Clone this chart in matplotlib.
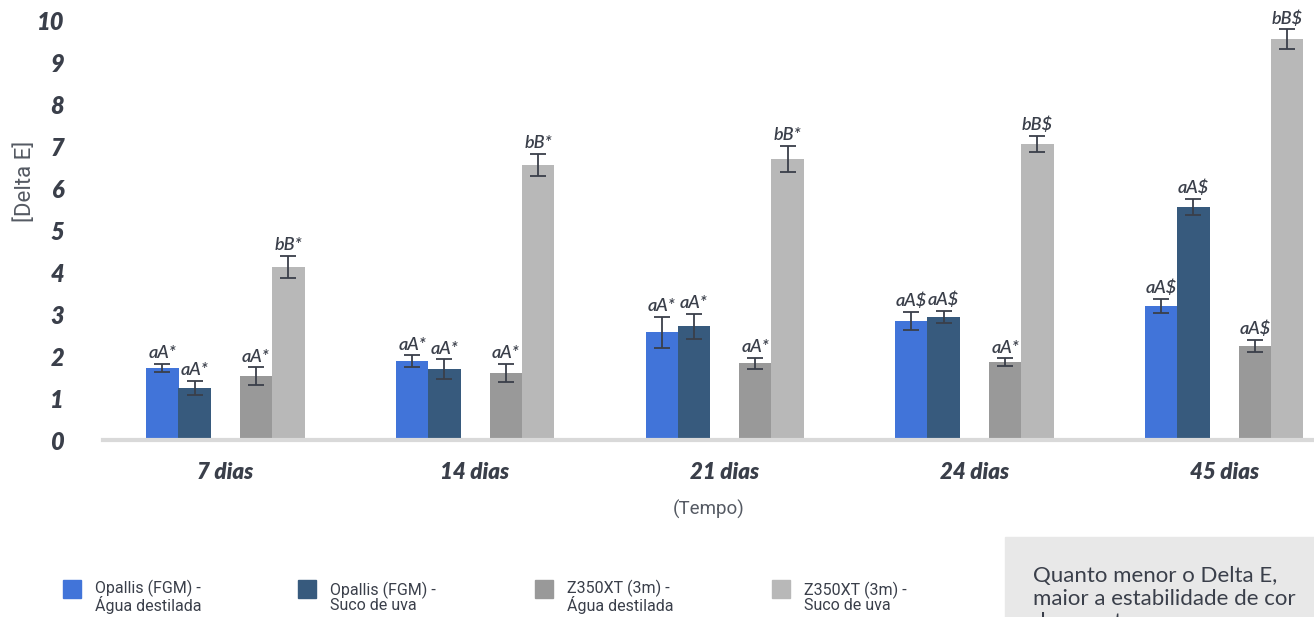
import matplotlib
matplotlib.use("Agg")
import matplotlib.pyplot as plt
import numpy as np
from matplotlib.patches import Rectangle

categories = ["7 dias", "14 dias", "21 dias", "24 dias", "45 dias"]
series_names = ["Opallis (FGM) -\nÁgua destilada", "Opallis (FGM) -\nSuco de uva",
                "Z350XT (3m) -\nÁgua destilada", "Z350XT (3m) -\nSuco de uva"]
opallis_agua = [1.71, 1.88, 2.57, 2.83, 3.19]
opallis_uva = [1.24, 1.69, 2.71, 2.93, 5.55]
z350_agua = [1.52, 1.60, 1.83, 1.86, 2.24]
z350_uva = [4.12, 6.55, 6.69, 7.05, 9.55]
err_opallis_agua = [0.10, 0.14, 0.37, 0.22, 0.17]
err_opallis_uva = [0.17, 0.23, 0.30, 0.15, 0.20]
err_z350_agua = [0.21, 0.21, 0.13, 0.09, 0.15]
err_z350_uva = [0.27, 0.26, 0.32, 0.20, 0.23]
labels_opallis_agua = ["aA*", "aA*", "aA*", "aA$", "aA$"]
labels_opallis_uva = ["aA*", "aA*", "aA*", "aA$", "aA$"]
labels_z350_agua = ["aA*", "aA*", "aA*", "aA*", "aA$"]
labels_z350_uva = ["bB*", "bB*", "bB*", "bB$", "bB$"]
yticks = list(range(0, 11))

colors = ["#4174D9", "#375A7D", "#999999", "#B8B8B8"]
txtc = "#3A3F4A"

W, H = 1314, 617
fig = plt.figure(figsize=(W / 100, H / 100), dpi=100)
ax = fig.add_axes([103 / W, (H - 440) / H, (W - 103) / W, 420 / H])

x = np.arange(len(categories))
bw = 0.13
offsets = [-0.252, -0.123, 0.123, 0.252]
data = [opallis_agua, opallis_uva, z350_agua, z350_uva]
errs = [err_opallis_agua, err_opallis_uva, err_z350_agua, err_z350_uva]
labs = [labels_opallis_agua, labels_opallis_uva, labels_z350_agua, labels_z350_uva]

for d, e, l, off, c in zip(data, errs, labs, offsets, colors):
    ax.bar(x + off, d, width=bw, color=c, zorder=2)
    ax.errorbar(x + off, d, yerr=e, fmt="none", ecolor=txtc, elinewidth=1.3,
                capsize=6, capthick=1.3, zorder=3)
    for xi, yi, ei, li in zip(x + off, d, e, l):
        ax.text(xi, yi + ei + 0.06, li, ha="center", va="bottom", fontsize=13,
                style="italic", fontweight="semibold", color=txtc,
                family=["Lato", "DejaVu Sans"], clip_on=False, zorder=4)

ax.set_xlim(-0.49, 4.36)
ax.set_ylim(0, 10)
for s in ["top", "right", "left"]:
    ax.spines[s].set_visible(False)
ax.spines["bottom"].set_color("#D9D9D9")
ax.spines["bottom"].set_linewidth(3)
ax.set_yticks(yticks)
ax.set_yticklabels([str(t) for t in yticks])
ax.set_xticks(x)
ax.set_xticklabels(categories)
ax.tick_params(axis="both", length=0)
ax.tick_params(axis="y", pad=28)
ax.tick_params(axis="x", pad=16)
for t in ax.get_yticklabels() + ax.get_xticklabels():
    t.set_family(["Lato", "DejaVu Sans"])
    t.set_fontweight("heavy")
    t.set_style("italic")
    t.set_color(txtc)
for t in ax.get_yticklabels():
    t.set_fontsize(17)
for t in ax.get_xticklabels():
    t.set_fontsize(16)

ax.set_ylabel("[Delta E]", fontsize=16, color="#555a63", family=["Roboto", "DejaVu Sans"],
              fontweight="normal")
ax.yaxis.set_label_coords(-67 / (W - 103), 0.615)
ax.set_xlabel("(Tempo)", fontsize=13.5, color="#555a63", family=["Roboto", "DejaVu Sans"],
              fontweight="normal", labelpad=12)

# Legend
leg_x = [63, 298, 535, 772]
for lx, name, c in zip(leg_x, series_names, colors):
    fig.patches.append(Rectangle((lx / W, (H - 598) / H), 18 / W, 18 / H,
                                 transform=fig.transFigure, color=c))
    fig.text((lx + 32) / W, (H - 597) / H, name, fontsize=11.5, color=txtc,
             family=["Roboto", "DejaVu Sans"], fontweight="normal", va="center",
             linespacing=0.9)

# Note box
fig.patches.append(Rectangle((1005 / W, 0), (W - 1005) / W, (H - 537) / H,
                             transform=fig.transFigure, color="#E8E8E8", zorder=0))
fig.text(1033 / W, (H - 566) / H, "Quanto menor o Delta E,\nmaior a estabilidade de cor\nda amostra",
         fontsize=16, color=txtc, family=["Lato", "DejaVu Sans"], va="top",
         linespacing=1.2)

fig.savefig("out.png", dpi=100)
